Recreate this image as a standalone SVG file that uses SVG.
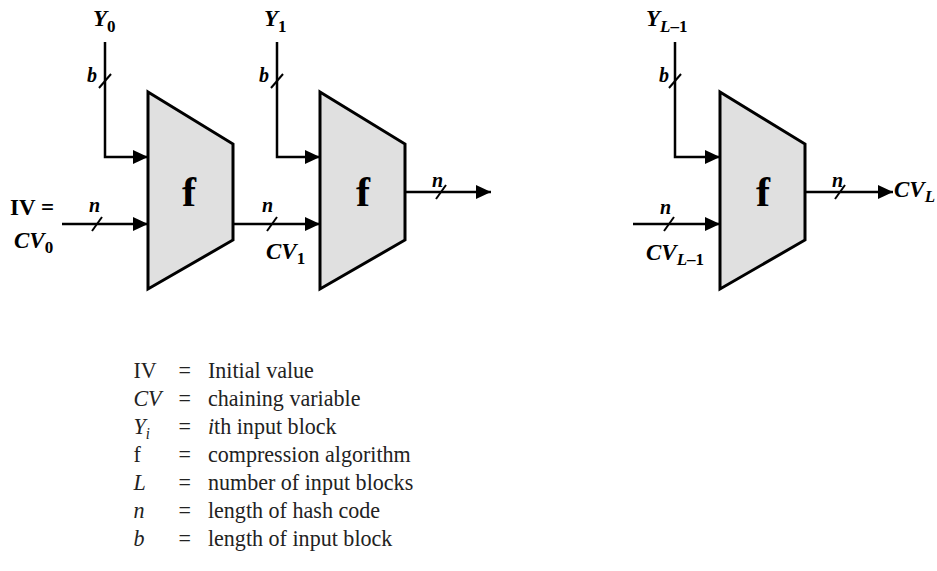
<svg xmlns="http://www.w3.org/2000/svg" width="937" height="571" viewBox="0 0 937 571">
<style>
.blk{fill:#e0e0e0;stroke:#000;stroke-width:3;stroke-linejoin:miter}
.w{fill:none;stroke:#000;stroke-width:2.5}
.sl{fill:none;stroke:#000;stroke-width:2}
.ft{font-family:"Liberation Serif","Times New Roman",serif;font-weight:bold;font-size:42px;fill:#000;text-anchor:middle}
.lb{font-family:"Liberation Serif","Times New Roman",serif;font-weight:bold;font-size:23px;fill:#000}
.it{font-style:italic}
.sm{font-family:"Liberation Serif","Times New Roman",serif;font-weight:bold;font-style:italic;font-size:20px;fill:#000}
.lg{font-family:"Liberation Serif","Times New Roman",serif;font-size:24px;fill:#222}
</style>
<defs>
<marker id="ah" markerUnits="userSpaceOnUse" markerWidth="15" markerHeight="14" refX="15" refY="7" orient="auto">
<path d="M0,0 L15,7 L0,14 Z" fill="#000"/>
</marker>
</defs>
<rect width="937" height="571" fill="#fff"/>

<g id="block1">
<polygon class="blk" points="148,92 233,144 233,240 148,289"/>
<text class="ft" x="189" y="206">f</text>
</g>
<g id="block2">
<polygon class="blk" points="320,92 405,144 405,240 320,289"/>
<text class="ft" x="363" y="206">f</text>
</g>
<g id="block3">
<polygon class="blk" points="720,92 805,144 805,240 720,289"/>
<text class="ft" x="763" y="206">f</text>
</g>

<g id="connectors">
<polyline class="w" points="105,42 105,157 148,157" marker-end="url(#ah)"/>
<line class="sl" x1="99" y1="88" x2="111" y2="74"/>
<line class="w" x1="62" y1="224" x2="148" y2="224" marker-end="url(#ah)"/>
<line class="sl" x1="92" y1="231" x2="102" y2="217"/>

<polyline class="w" points="277,42 277,157 320,157" marker-end="url(#ah)"/>
<line class="sl" x1="271" y1="88" x2="283" y2="74"/>
<line class="w" x1="233" y1="224" x2="320" y2="224" marker-end="url(#ah)"/>
<line class="sl" x1="267" y1="231" x2="277" y2="217"/>
<line class="w" x1="405" y1="192" x2="491" y2="192" marker-end="url(#ah)"/>
<line class="sl" x1="436" y1="199" x2="446" y2="185"/>

<polyline class="w" points="675,42 675,157 720,157" marker-end="url(#ah)"/>
<line class="sl" x1="669" y1="88" x2="681" y2="74"/>
<line class="w" x1="633" y1="224" x2="720" y2="224" marker-end="url(#ah)"/>
<line class="sl" x1="664" y1="231" x2="674" y2="217"/>
<line class="w" x1="805" y1="192" x2="893" y2="192" marker-end="url(#ah)"/>
<line class="sl" x1="835" y1="199" x2="845" y2="185"/>
</g>

<g id="labels">
<text class="lb" x="93" y="26"><tspan class="it">Y</tspan><tspan font-size="17" dy="6">0</tspan></text>
<text class="sm" x="87" y="82">b</text>
<text class="sm" x="89" y="212">n</text>
<text class="lb" x="10" y="215">IV =</text>
<text class="lb" x="14" y="248"><tspan class="it">CV</tspan><tspan font-size="17" dy="5">0</tspan></text>

<text class="lb" x="264" y="26"><tspan class="it">Y</tspan><tspan font-size="17" dy="6">1</tspan></text>
<text class="sm" x="259" y="82">b</text>
<text class="sm" x="262" y="212">n</text>
<text class="lb" x="266" y="259"><tspan class="it">CV</tspan><tspan font-size="17" dy="5">1</tspan></text>
<text class="sm" x="432" y="187">n</text>

<text class="lb" x="646" y="26"><tspan class="it">Y</tspan><tspan class="it" font-size="17" dy="6">L</tspan><tspan font-size="17">–1</tspan></text>
<text class="sm" x="659" y="82">b</text>
<text class="sm" x="660" y="214">n</text>
<text class="lb" x="646" y="260"><tspan class="it">CV</tspan><tspan class="it" font-size="17" dy="5">L</tspan><tspan font-size="17">–1</tspan></text>
<text class="sm" x="832" y="187">n</text>
<text class="lb" x="894" y="197"><tspan class="it">CV</tspan><tspan class="it" font-size="17" dy="5">L</tspan></text>
</g>

<g id="legend" transform="scale(0.92,1)">
<text class="lg" x="145" y="378">IV</text>
<text class="lg" x="145" y="406" font-style="italic">CV</text>
<text class="lg" x="145" y="434"><tspan font-style="italic">Y</tspan><tspan font-style="italic" font-size="16" dy="5">i</tspan></text>
<text class="lg" x="145" y="462">f</text>
<text class="lg" x="145" y="490" font-style="italic">L</text>
<text class="lg" x="145" y="518" font-style="italic">n</text>
<text class="lg" x="145" y="546" font-style="italic">b</text>
<text class="lg" x="194" y="378">=</text>
<text class="lg" x="194" y="406">=</text>
<text class="lg" x="194" y="434">=</text>
<text class="lg" x="194" y="462">=</text>
<text class="lg" x="194" y="490">=</text>
<text class="lg" x="194" y="518">=</text>
<text class="lg" x="194" y="546">=</text>
<text class="lg" x="226" y="378">Initial value</text>
<text class="lg" x="226" y="406">chaining variable</text>
<text class="lg" x="226" y="434"><tspan font-style="italic">i</tspan>th input block</text>
<text class="lg" x="226" y="462">compression algorithm</text>
<text class="lg" x="226" y="490">number of input blocks</text>
<text class="lg" x="226" y="518">length of hash code</text>
<text class="lg" x="226" y="546">length of input block</text>
</g>
</svg>
